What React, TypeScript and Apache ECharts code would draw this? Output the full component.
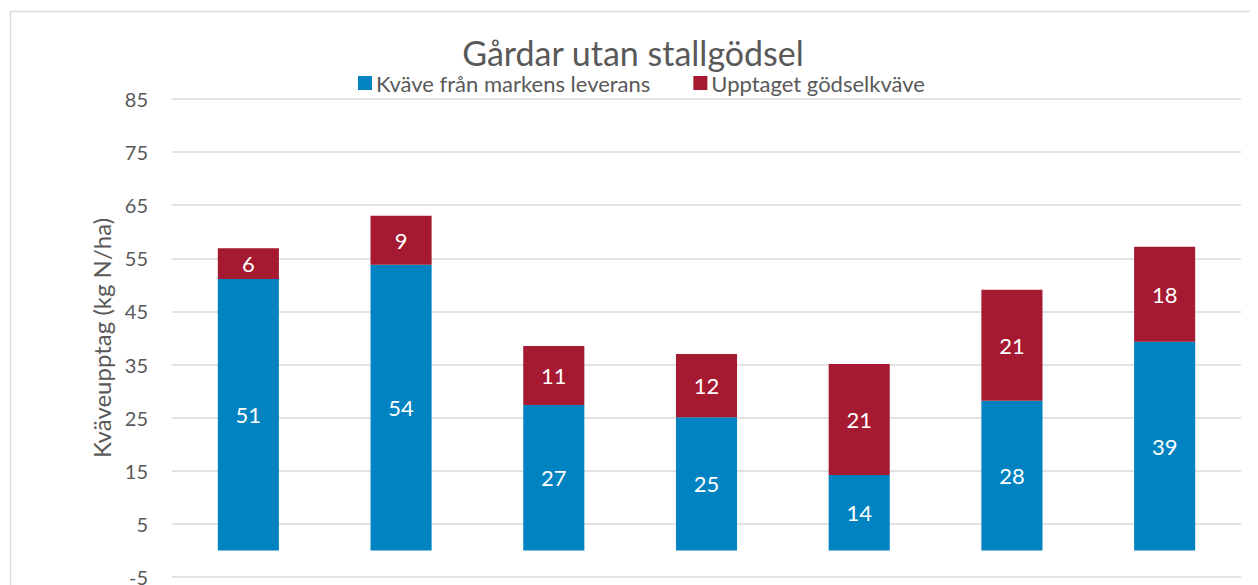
import React, { useEffect, useRef } from "react";
import * as echarts from "echarts";

const categories = ["1", "2", "3", "4", "5", "6", "7"];
const markValues = [51.1, 53.8, 27.4, 25.1, 14.2, 28.2, 39.3];
const manureValues = [5.8, 9.2, 11.1, 11.9, 20.9, 20.9, 17.9];
const seriesNames = ["Kväve från markens leverans", "Upptaget gödselkväve"];
const titleText = "Gårdar utan stallgödsel";
const yAxisName = "Kväveupptag (kg N/ha)";

const FONT = "Lato, 'Noto Sans', sans-serif";
const GREY = "#595959";

export default function App() {
  const ref = useRef<HTMLDivElement>(null);
  useEffect(() => {
    if (!ref.current) return;
    const chart = echarts.init(ref.current, undefined, { renderer: "svg" });
    const label = {
      show: true,
      position: "inside",
      color: "#ffffff",
      fontSize: 22,
      fontFamily: FONT,
      formatter: (p: any) => String(Math.round(p.value)),
    };
    chart.setOption({
      animation: false,
      backgroundColor: "#ffffff",
      textStyle: { fontFamily: FONT },
      graphic: [
        {
          type: "rect",
          shape: { x: 2.5, y: 3.5, width: 1400, height: 800 },
          style: { fill: "none", stroke: "#d9d9d9", lineWidth: 1.5 },
          silent: true,
        },
      ],
      title: {
        text: titleText,
        left: "center",
        top: 22,
        textStyle: { fontSize: 34, fontWeight: "normal", color: GREY, fontFamily: FONT },
      },
      legend: {
        data: seriesNames,
        top: 59,
        left: 345,
        itemWidth: 14,
        itemHeight: 14,
        itemGap: 43,
        icon: "rect",
        textStyle: { fontSize: 22, color: GREY, fontFamily: FONT, padding: [0, 0, 0, -1] },
      },
      grid: { left: 164, right: 17, top: 91, bottom: 31, containLabel: false },
      xAxis: {
        type: "category",
        data: categories,
        axisLine: { show: false },
        axisTick: { show: false },
        axisLabel: { show: false },
      },
      yAxis: {
        type: "value",
        min: -5,
        max: 85,
        interval: 10,
        name: yAxisName,
        nameLocation: "middle",
        nameGap: 57,
        nameTextStyle: { fontSize: 24, color: GREY, fontFamily: FONT },
        axisLine: { show: false },
        axisTick: { show: false },
        axisLabel: { fontSize: 20, color: GREY, margin: 24, fontFamily: FONT },
        splitLine: { lineStyle: { color: "#d9d9d9", width: 1.5 } },
      },
      series: [
        {
          name: seriesNames[0],
          type: "bar",
          stack: "total",
          barWidth: "40%",
          data: markValues,
          itemStyle: { color: "#0083c0" },
          label,
        },
        {
          name: seriesNames[1],
          type: "bar",
          stack: "total",
          barWidth: "40%",
          data: manureValues,
          itemStyle: { color: "#a51931" },
          label,
        },
      ],
    });
    return () => chart.dispose();
  }, []);
  return <div ref={ref} style={{ width: 1250, height: 600 }} />;
}
